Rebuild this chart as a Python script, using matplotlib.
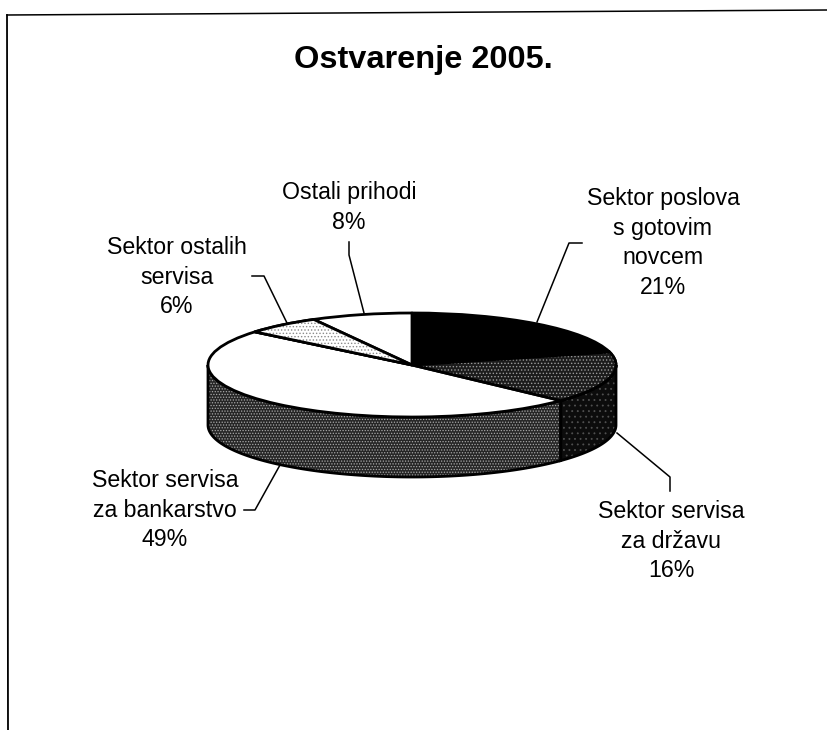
import numpy as np
import matplotlib
matplotlib.use("Agg")
import matplotlib.pyplot as plt
from matplotlib.patches import Wedge

plt.rcParams['font.family'] = ['Liberation Sans', 'DejaVu Sans']
plt.rcParams['hatch.linewidth'] = 0.6

title = "Ostvarenje 2005."
names = ["Sektor poslova\ns gotovim\nnovcem", "Sektor servisa\nza državu",
         "Sektor servisa\nza bankarstvo", "Sektor ostalih\nservisa", "Ostali prihodi"]
values = [21, 16, 49, 6, 8]

W, H = 828, 730
CX, CY, RX, RY, DEPTH = 412, 365, 204, 52, 60

fig = plt.figure(figsize=(W / 100, H / 100), dpi=100, facecolor='white')

# pie axes: one data unit = RX px horizontally, RY px vertically
ax = fig.add_axes([0, 0, 1, 1])
wedges, _ = ax.pie(values, startangle=90, counterclock=False, radius=1,
                   wedgeprops=dict(linewidth=2.0, edgecolor='black', joinstyle='round'))
ax.set_aspect('auto')
ax.set_xlim(-CX / RX, (W - CX) / RX)
ax.set_ylim(-(H - CY) / RY, CY / RY)
ax.set_axis_off()
for w in wedges:
    w.set_zorder(5)

tops = [dict(fc='black', hatch=None, hc='black'),
        dict(fc='#1c1c1c', hatch='.....', hc='#9a9a9a'),
        dict(fc='white', hatch=None, hc='black'),
        dict(fc='white', hatch='.....', hc='#8a8a8a'),
        dict(fc='white', hatch=None, hc='black')]
sides = [dict(fc='black', hatch=None, hc='black'),
         dict(fc='#0c0c0c', hatch='...', hc='#505050'),
         dict(fc='#262626', hatch='......', hc='#a8a8a8'),
         None, None]

for w, st in zip(wedges, tops):
    w.set_facecolor(st['fc'])
    if st['hatch']:
        ax.add_patch(Wedge(w.center, w.r, w.theta1, w.theta2, facecolor=st['fc'],
                           edgecolor=st['hc'], hatch=st['hatch'], linewidth=0, zorder=5.1))
        ax.add_patch(Wedge(w.center, w.r, w.theta1, w.theta2, facecolor='none',
                           edgecolor='black', linewidth=2.0, zorder=5.2))

# extruded rim, built from the same cumulative shares
edges = np.cumsum([0] + values) / sum(values) * 2 * np.pi
d = DEPTH / RY
for i, st in enumerate(sides):
    a0, a1 = edges[i], edges[i + 1]
    lo, hi = max(a0, np.pi / 2), min(a1, 3 * np.pi / 2)
    if st is None or hi <= lo:
        continue
    t = np.linspace(lo, hi, 120)
    xs = np.r_[np.sin(t), np.sin(t[::-1])]
    ys = np.r_[np.cos(t), np.cos(t[::-1]) - d]
    ax.fill(xs, ys, facecolor=st['fc'], edgecolor=st['hc'], hatch=st['hatch'], linewidth=0, zorder=2)
    ax.fill(xs, ys, facecolor='none', edgecolor='black', linewidth=2.0, zorder=3)

# overlay in pixel coordinates for frame, text and leader lines
ov = fig.add_axes([0, 0, 1, 1], facecolor='none')
ov.set_xlim(0, W)
ov.set_ylim(H, 0)
ov.set_axis_off()

ov.plot([7, 828], [15, 10], color='black', lw=1.1, zorder=1)
ov.plot([7, 8], [15, 730], color='black', lw=1.3, zorder=1)

ov.text(423, 68, title, fontsize=23.4, fontweight='bold', ha='center', va='baseline')

label_pos = [(663, 205), (671, 518), (165, 487), (177, 254), (349, 199)]
LINE = 29.7
for name, v, (x, y) in zip(names, values, label_pos):
    for k, line in enumerate(name.split("\n") + [f"{v}%"]):
        ov.text(x, y + k * LINE, line, fontsize=16.7, ha='center', va='baseline', color='black')

leaders = [([582, 569, 537], [243, 243, 322]),
           ([617, 670, 670], [433, 477, 491]),
           ([244, 255, 280], [510, 510, 465]),
           ([252, 264, 287], [276, 276, 323]),
           ([349, 349, 364], [242, 255, 313])]
for xs, ys in leaders:
    ov.plot(xs, ys, color='black', lw=1.1, zorder=1)

fig.savefig("out.png", dpi=100, facecolor='white')
